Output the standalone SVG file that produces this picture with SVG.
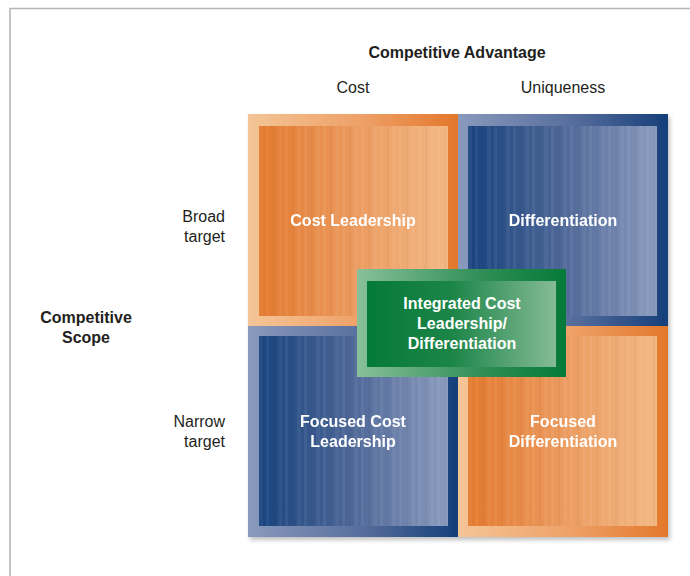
<svg xmlns="http://www.w3.org/2000/svg" width="690" height="576" viewBox="0 0 690 576">
<style>
.t{font-family:"Liberation Sans",Arial,sans-serif;font-size:16px;fill:#231f20}
.b{font-weight:bold}
.w{font-family:"Liberation Sans",Arial,sans-serif;font-size:16px;font-weight:bold;fill:#ffffff;text-anchor:middle}
.m{text-anchor:middle}
.r{text-anchor:end}
</style>
<defs>
<linearGradient id="oOut" x1="0" y1="0" x2="1" y2="0"><stop offset="0" stop-color="#f4c597"/><stop offset="0.55" stop-color="#eea066"/><stop offset="1" stop-color="#e3772b"/></linearGradient>
<linearGradient id="oIn" x1="0" y1="0" x2="1" y2="0"><stop offset="0" stop-color="#e3792e"/><stop offset="0.5" stop-color="#eb9a5e"/><stop offset="1" stop-color="#f2b884"/></linearGradient>
<linearGradient id="bOut" x1="0" y1="0" x2="1" y2="0"><stop offset="0" stop-color="#8a9abd"/><stop offset="0.55" stop-color="#566d9c"/><stop offset="1" stop-color="#153f7a"/></linearGradient>
<linearGradient id="bIn" x1="0" y1="0" x2="1" y2="0"><stop offset="0" stop-color="#18437e"/><stop offset="0.5" stop-color="#4e6797"/><stop offset="1" stop-color="#8b9bbe"/></linearGradient>
<linearGradient id="gOut" x1="0" y1="0" x2="1" y2="0"><stop offset="0" stop-color="#88c09a"/><stop offset="0.6" stop-color="#2f8e55"/><stop offset="1" stop-color="#057a39"/></linearGradient>
<linearGradient id="gIn" x1="0" y1="0" x2="1" y2="0"><stop offset="0" stop-color="#057a39"/><stop offset="0.45" stop-color="#1c8548"/><stop offset="1" stop-color="#86bb96"/></linearGradient>
<pattern id="stripes" x="0" y="0" width="19" height="10" patternUnits="userSpaceOnUse">
<rect x="0" y="0" width="3" height="10" fill="#ffffff" opacity="0.06"/>
<rect x="7" y="0" width="2" height="10" fill="#000000" opacity="0.03"/>
<rect x="12" y="0" width="4" height="10" fill="#ffffff" opacity="0.05"/>
</pattern>
<filter id="sh" x="-5%" y="-5%" width="110%" height="110%">
<feGaussianBlur in="SourceAlpha" stdDeviation="2"/>
<feOffset dx="2" dy="3" result="o"/>
<feComponentTransfer><feFuncA type="linear" slope="0.25"/></feComponentTransfer>
<feMerge><feMergeNode/><feMergeNode in="SourceGraphic"/></feMerge>
</filter>
</defs>
<rect x="0" y="0" width="690" height="576" fill="#ffffff"/>
<path d="M10,576 V8.5 H690" fill="none" stroke="#b5b5b5" stroke-width="1.6"/>

<g id="labels">
<text class="t b m" x="457" y="58">Competitive Advantage</text>
<text class="t m" x="353" y="93">Cost</text>
<text class="t m" x="563" y="93">Uniqueness</text>
<text class="t r" x="225" y="222">Broad</text>
<text class="t r" x="225" y="242">target</text>
<text class="t b m" x="86" y="323">Competitive</text>
<text class="t b m" x="86" y="343">Scope</text>
<text class="t r" x="225" y="427">Narrow</text>
<text class="t r" x="225" y="447">target</text>
</g>

<g filter="url(#sh)">
<g id="cost-leadership">
<rect x="248" y="114" width="210" height="212" fill="url(#oOut)"/>
<rect x="259" y="126" width="189" height="190" fill="url(#oIn)"/>
<rect x="259" y="126" width="189" height="190" fill="url(#stripes)"/>
<text class="w" x="353" y="226">Cost Leadership</text>
</g>
<g id="differentiation">
<rect x="458" y="114" width="210" height="212" fill="url(#bOut)"/>
<rect x="468" y="126" width="189" height="190" fill="url(#bIn)"/>
<rect x="468" y="126" width="189" height="190" fill="url(#stripes)"/>
<text class="w" x="563" y="226">Differentiation</text>
</g>
<g id="focused-cost-leadership">
<rect x="248" y="326" width="210" height="211" fill="url(#bOut)"/>
<rect x="259" y="336" width="189" height="190" fill="url(#bIn)"/>
<rect x="259" y="336" width="189" height="190" fill="url(#stripes)"/>
<text class="w" x="353" y="427">Focused Cost</text>
<text class="w" x="353" y="447">Leadership</text>
</g>
<g id="focused-differentiation">
<rect x="458" y="326" width="210" height="211" fill="url(#oOut)"/>
<rect x="468" y="336" width="189" height="190" fill="url(#oIn)"/>
<rect x="468" y="336" width="189" height="190" fill="url(#stripes)"/>
<text class="w" x="563" y="427">Focused</text>
<text class="w" x="563" y="447">Differentiation</text>
</g>
</g>

<g id="integrated">
<rect x="357" y="269" width="209" height="108" fill="url(#gOut)"/>
<rect x="367" y="281" width="189" height="86" fill="url(#gIn)"/>
<text class="w" x="462" y="309">Integrated Cost</text>
<text class="w" x="462" y="329">Leadership/</text>
<text class="w" x="462" y="349">Differentiation</text>
</g>
</svg>
